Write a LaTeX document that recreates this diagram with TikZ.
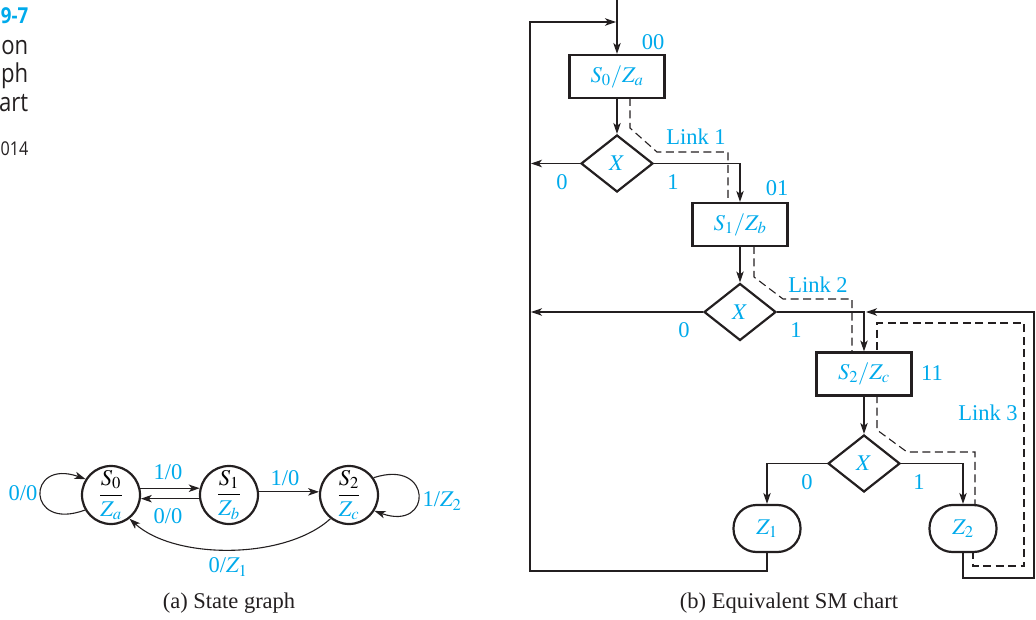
\documentclass[tikz,border=0pt]{standalone}
\usepackage{mathptmx}
\usepackage{fontspec}
\setmainfont{Liberation Serif}
\newfontfamily\capsans[FakeStretch=0.85]{Open Sans}
\usetikzlibrary{arrows.meta,shapes.geometric}
\definecolor{cb}{RGB}{0,170,235}
\definecolor{ink}{RGB}{35,31,32}
\newcommand{\stfrac}[2]{$\displaystyle\frac{#1}{\color{cb}#2}$}
\begin{document}
\begin{tikzpicture}[x=1pt,y=-1pt,font=\fontsize{22.5}{26}\selectfont,
  ln/.style={line width=1.1pt,draw=ink},
  arr/.style={ln,-{Stealth[length=11pt,width=7.5pt,inset=3pt]}},
  bx/.style={draw=ink,line width=2.2pt,minimum width=95pt,minimum height=43pt,inner sep=0pt,text=cb},
  dm/.style={diamond,draw=ink,line width=2.2pt,minimum width=72pt,minimum height=57pt,inner sep=0pt,text=cb},
  ov/.style={draw=ink,line width=2.2pt,rounded corners=23pt,minimum width=67pt,minimum height=47pt,inner sep=0pt,text=cb},
  st/.style={circle,draw=ink,line width=2.2pt,minimum size=58pt,inner sep=0pt},
  lb/.style={text=cb,inner sep=0pt},
  captxt/.style={text=ink,inner sep=0pt},
  side/.style={text=ink,inner sep=0pt,anchor=base east,font=\capsans\fontsize{26}{30}\selectfont},
  dsh/.style={draw=ink,line width=1.1pt,dash pattern=on 8pt off 4.5pt}]
\useasboundingbox (0,0) rectangle (1036,620);

% cropped side caption
\node[side,text=cb,font=\capsans\bfseries\fontsize{22}{26}\selectfont] (t1) at (28.5,24) {9-7};
\node[side] (t2) at (28.5,55) {on};
\node[side] (t3) at (28.5,83) {ph};
\node[side] (t4) at (28.5,111.5) {art};
\node[side,font=\capsans\fontsize{19}{23}\selectfont] (t5) at (28.5,156) {014};

% (a) state graph
\node[st] (s0) at (111,495) {\stfrac{S_0}{Z_a}};
\node[st] (s1) at (229,495) {\stfrac{S_1}{Z_b}};
\node[st] (s2) at (349,495) {\stfrac{S_2}{Z_c}};
\draw[arr] (s0.13) -- (s1.167);
\draw[arr] (s1.187) -- (s0.-7);
\draw[arr] (s1.6) -- (s2.174);
\draw[arr] (s0.210) .. controls (26,532) and (26,458) .. (s0.148);
\draw[arr] (s2.35) .. controls (433,458) and (433,532) .. (s2.-32);
\draw[arr] (s2.232) .. controls (285,560) and (175,560) .. (s0.-52);
\node[lb] (l00) at (23,493) {0/0};
\node[lb] (l10a) at (168,472) {1/0};
\node[lb] (l00b) at (168,516) {0/0};
\node[lb] (l10b) at (285,478) {1/0};
\node[lb] (l1z2) at (442,501) {1/$Z_2$};
\node[lb] (l0z1) at (228,567) {0/$Z_1$};
\node[captxt] (capa) at (229,603) {(a) State graph};

% (b) SM chart
\node[bx] (b0) at (617,76.5) {$S_0/Z_a$};
\node[dm] (d0) at (617,163.5) {$X$};
\node[bx] (b1) at (740,224.5) {$S_1/Z_b$};
\node[dm] (d1) at (740,312) {$X$};
\node[bx] (b2) at (864,374) {$S_2/Z_c$};
\node[dm] (d2) at (864,463.5) {$X$};
\node[ov] (z1) at (767,528.5) {$Z_1$};
\node[ov] (z2) at (963,528.5) {$Z_2$};

\coordinate (entry) at (617,0);
\coordinate (j0) at (616,22);
\coordinate (lt) at (530,22);
\coordinate (lb) at (530,571);
\coordinate (x0) at (531,163.5);
\coordinate (x1) at (531,312);
\coordinate (rb) at (1034,578);
\coordinate (rt) at (1034,312);
\coordinate (j2) at (866,312);

\draw[arr] (entry) -- (b0.north);
\draw[arr] (z1.south) |- (lb) -- (lt) -- (j0);
\draw[arr] (b0.south) -- (d0.north);
\draw[arr] (d0.west) -- (x0);
\draw[arr] (d0.east) -| (b1.north);
\draw[arr] (b1.south) -- (d1.north);
\draw[arr] (d1.west) -- (x1);
\draw[arr] (d1.east) -| (b2.north);
\draw[arr] (z2.south) |- (rb) -- (rt) -- (j2);
\draw[arr] (b2.south) -- (d2.north);
\draw[arr] (d2.west) -| (z1.north);
\draw[arr] (d2.east) -| (z2.north);

% links
\draw[dsh] (630,98) -- (630,128) -- (657,152) -- (728,152) -- (728,203);
\draw[dsh] (754,246) -- (754,277) -- (783,299) -- (852,299) -- (852,353);
\draw[dsh] (877,395) -- (877,430) -- (907,452) -- (975,452) -- (975,506);
\draw[dsh] (973,551) -- (973,566) -- (1024,566) -- (1024,323) -- (877,323) -- (877,353);

\node[lb] (c00) at (653,42) {00};
\node[lb] (c01) at (777,188) {01};
\node[lb] (c11) at (932,373) {11};
\node[lb] (o0) at (562,182) {0};
\node[lb] (o1) at (673,182) {1};
\node[lb] (o2) at (684,330) {0};
\node[lb] (o3) at (796,330) {1};
\node[lb] (o4) at (807,482) {0};
\node[lb] (o5) at (919,482) {1};
\node[lb] (k1) at (696,137) {Link 1};
\node[lb] (k2) at (818,285) {Link 2};
\node[lb] (k3) at (988,413) {Link 3};
\node[captxt] (capb) at (789,603) {(b) Equivalent SM chart};
\end{tikzpicture}
\end{document}
